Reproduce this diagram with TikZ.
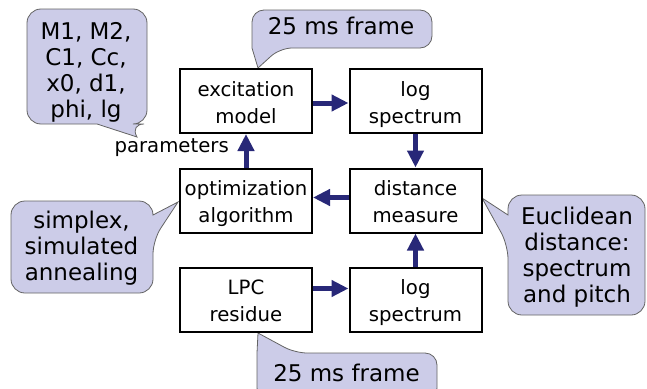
\documentclass[tikz,border=0pt]{standalone}
\usepackage{fontspec}
\setmainfont{DejaVu Sans}
\usetikzlibrary{arrows.meta}
\definecolor{flowblue}{RGB}{40,40,120}
\definecolor{notefill}{RGB}{204,204,232}
\definecolor{noteline}{RGB}{100,100,100}

\begin{document}
\begin{tikzpicture}[x=1pt,y=-1pt,
	every node/.style={font=\fontsize{19.7}{27}\selectfont},
	box/.style={draw,line width=2pt,minimum width=132pt,minimum height=64pt,inner sep=0pt,align=center,text height=46pt,text depth=2pt},
	flow/.style={->,>={Triangle[length=17pt,width=16pt]},line width=5pt,flowblue},
	note/.style={fill=notefill,draw=noteline,line width=0.8pt},
	notetext/.style={align=center,inner sep=0pt,font=\fontsize{23}{26}\selectfont}]
\useasboundingbox (0,0) rectangle (647,388);
\filldraw[note] (130,124)--(137,137)--(97,124) [rounded corners=14pt] --(27,124)--(27,9)--(147,9)--(147,124)--cycle;
\filldraw[note] (280,48)--(258,68)--(252,48) [rounded corners=12pt] --(252,10)--(432,10)--(432,48)--cycle;
\filldraw[note] (153,240)--(178,202)--(153,215) [rounded corners=14pt] --(153,201)--(11,201)--(11,293)--(153,293)--cycle;
\filldraw[note] (508,245)--(482,198)--(508,215) [rounded corners=14pt] --(508,195)--(645,195)--(645,315)--(508,315)--cycle;
\filldraw[note] (295,353)--(258,333)--(257,353) [rounded corners=12pt] --(257,400)--(437,400)--(437,353)--cycle;
	\node[notetext] (c0) at (86,72) {M1, M2,\\C1, Cc,\\x0, d1,\\phi, lg};
\node[notetext] (c1) at (341,26) {25 ms frame};
\node[notetext] (c2) at (81.5,248) {simplex,\\simulated\\annealing};
\node[notetext] (c3) at (577,257) {Euclidean\\distance:\\spectrum\\and pitch};
\node[notetext] (c4) at (346.5,373) {25 ms frame};
\node[box] (0) at (246,101) {excitation\\model};
\node[box] (1) at (415.5,101) {log\\spectrum};
\node[box] (2) at (415.5,200.5) {distance\\measure};
\node[box] (3) at (246,200.5) {optimization\\algorithm};
\node[box] (4) at (246,299.5) {LPC\\residue};
\node[box] (5) at (415.5,299.5) {log\\spectrum};
\node[anchor=east,inner sep=0pt] (p) at (229,148) {parameters};
\draw [flow]([yshift=-2pt]0.east)--([yshift=-2pt]1.west);
\draw [flow](1)--(2);
\draw [flow]([yshift=3pt]2.west)--([yshift=3pt]3.east);
\draw [flow](3)--(0);
\draw [flow]([yshift=11pt]4.east)--([yshift=11pt]5.west);
\draw [flow](5)--(2);
	\end{tikzpicture}
\end{document}
